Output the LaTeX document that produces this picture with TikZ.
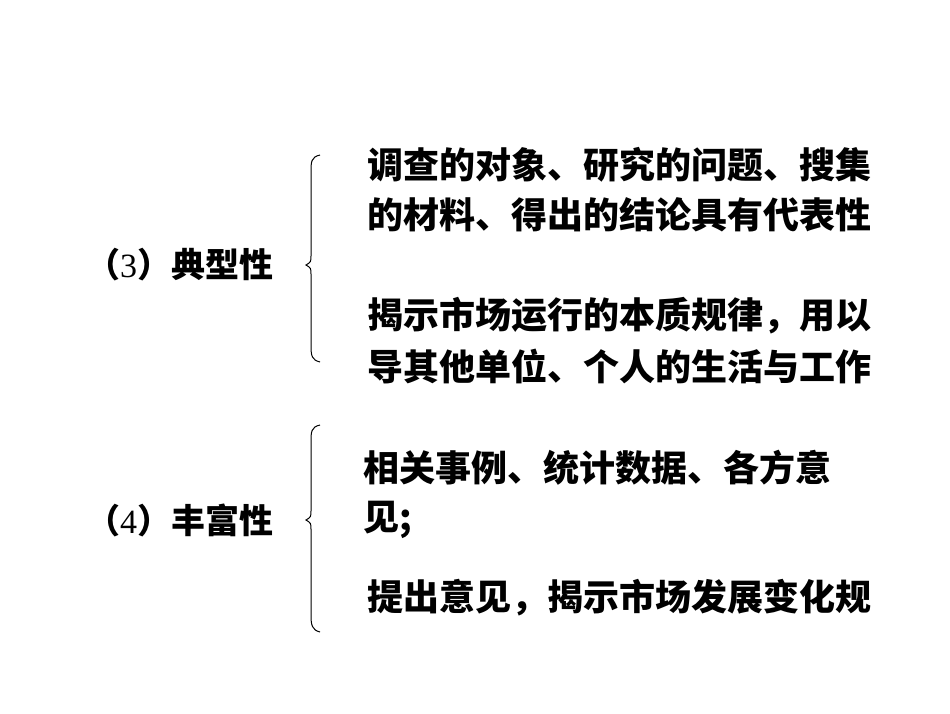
\documentclass[tikz,border=0pt]{standalone}
\usepackage{fontspec}
\newfontfamily\cjk{Noto Sans CJK SC}
\newfontfamily\lat{Liberation Serif}
\tikzset{
 txt/.style={anchor=west,inner sep=0pt,font=\cjk\bfseries\fontsize{36}{40}\selectfont},
 lab/.style={anchor=west,inner sep=0pt,font=\cjk\bfseries\fontsize{34}{40}\selectfont},
 br/.style={line width=1pt}}
\begin{document}
\begin{tikzpicture}[x=1pt,y=-1pt]
\useasboundingbox (0,0) rectangle (950,713);
\clip (0,0) rectangle (950,713);
\node[lab] (l3) at (86,265) {（{\lat\mdseries 3}）典型性};
\node[lab] (l4) at (86,520) {（{\lat\mdseries 4}）丰富性};
\node[txt] (a1) at (367,165) {调查的对象、研究的问题、搜集};
\node[txt] (a2) at (367,215) {的材料、得出的结论具有代表性};
\node[txt] (b1) at (367,316) {揭示市场运行的本质规律，用以};
\node[txt] (b2) at (367,366) {导其他单位、个人的生活与工作};
\node[txt] (c1) at (363,468) {相关事例、统计数据、各方意};
\node[txt] (c2) at (363,520) {见;};
\node[txt] (d1) at (367,598) {提出意见，揭示市场发展变化规};
\draw[br] (320,155) .. controls (311,157) and (311,162) .. (311,172) -- (311,255) .. controls (311,262) .. (306,265) .. controls (311,268) .. (311,275) -- (311,346) .. controls (311,356) and (312,360) .. (320,362);
\draw[br] (320,425) .. controls (311,427) and (311,432) .. (311,442) -- (311,510) .. controls (311,517) .. (306,520) .. controls (311,523) .. (311,530) -- (311,615) .. controls (311,625) and (312,630) .. (320,632);
\end{tikzpicture}
\end{document}
